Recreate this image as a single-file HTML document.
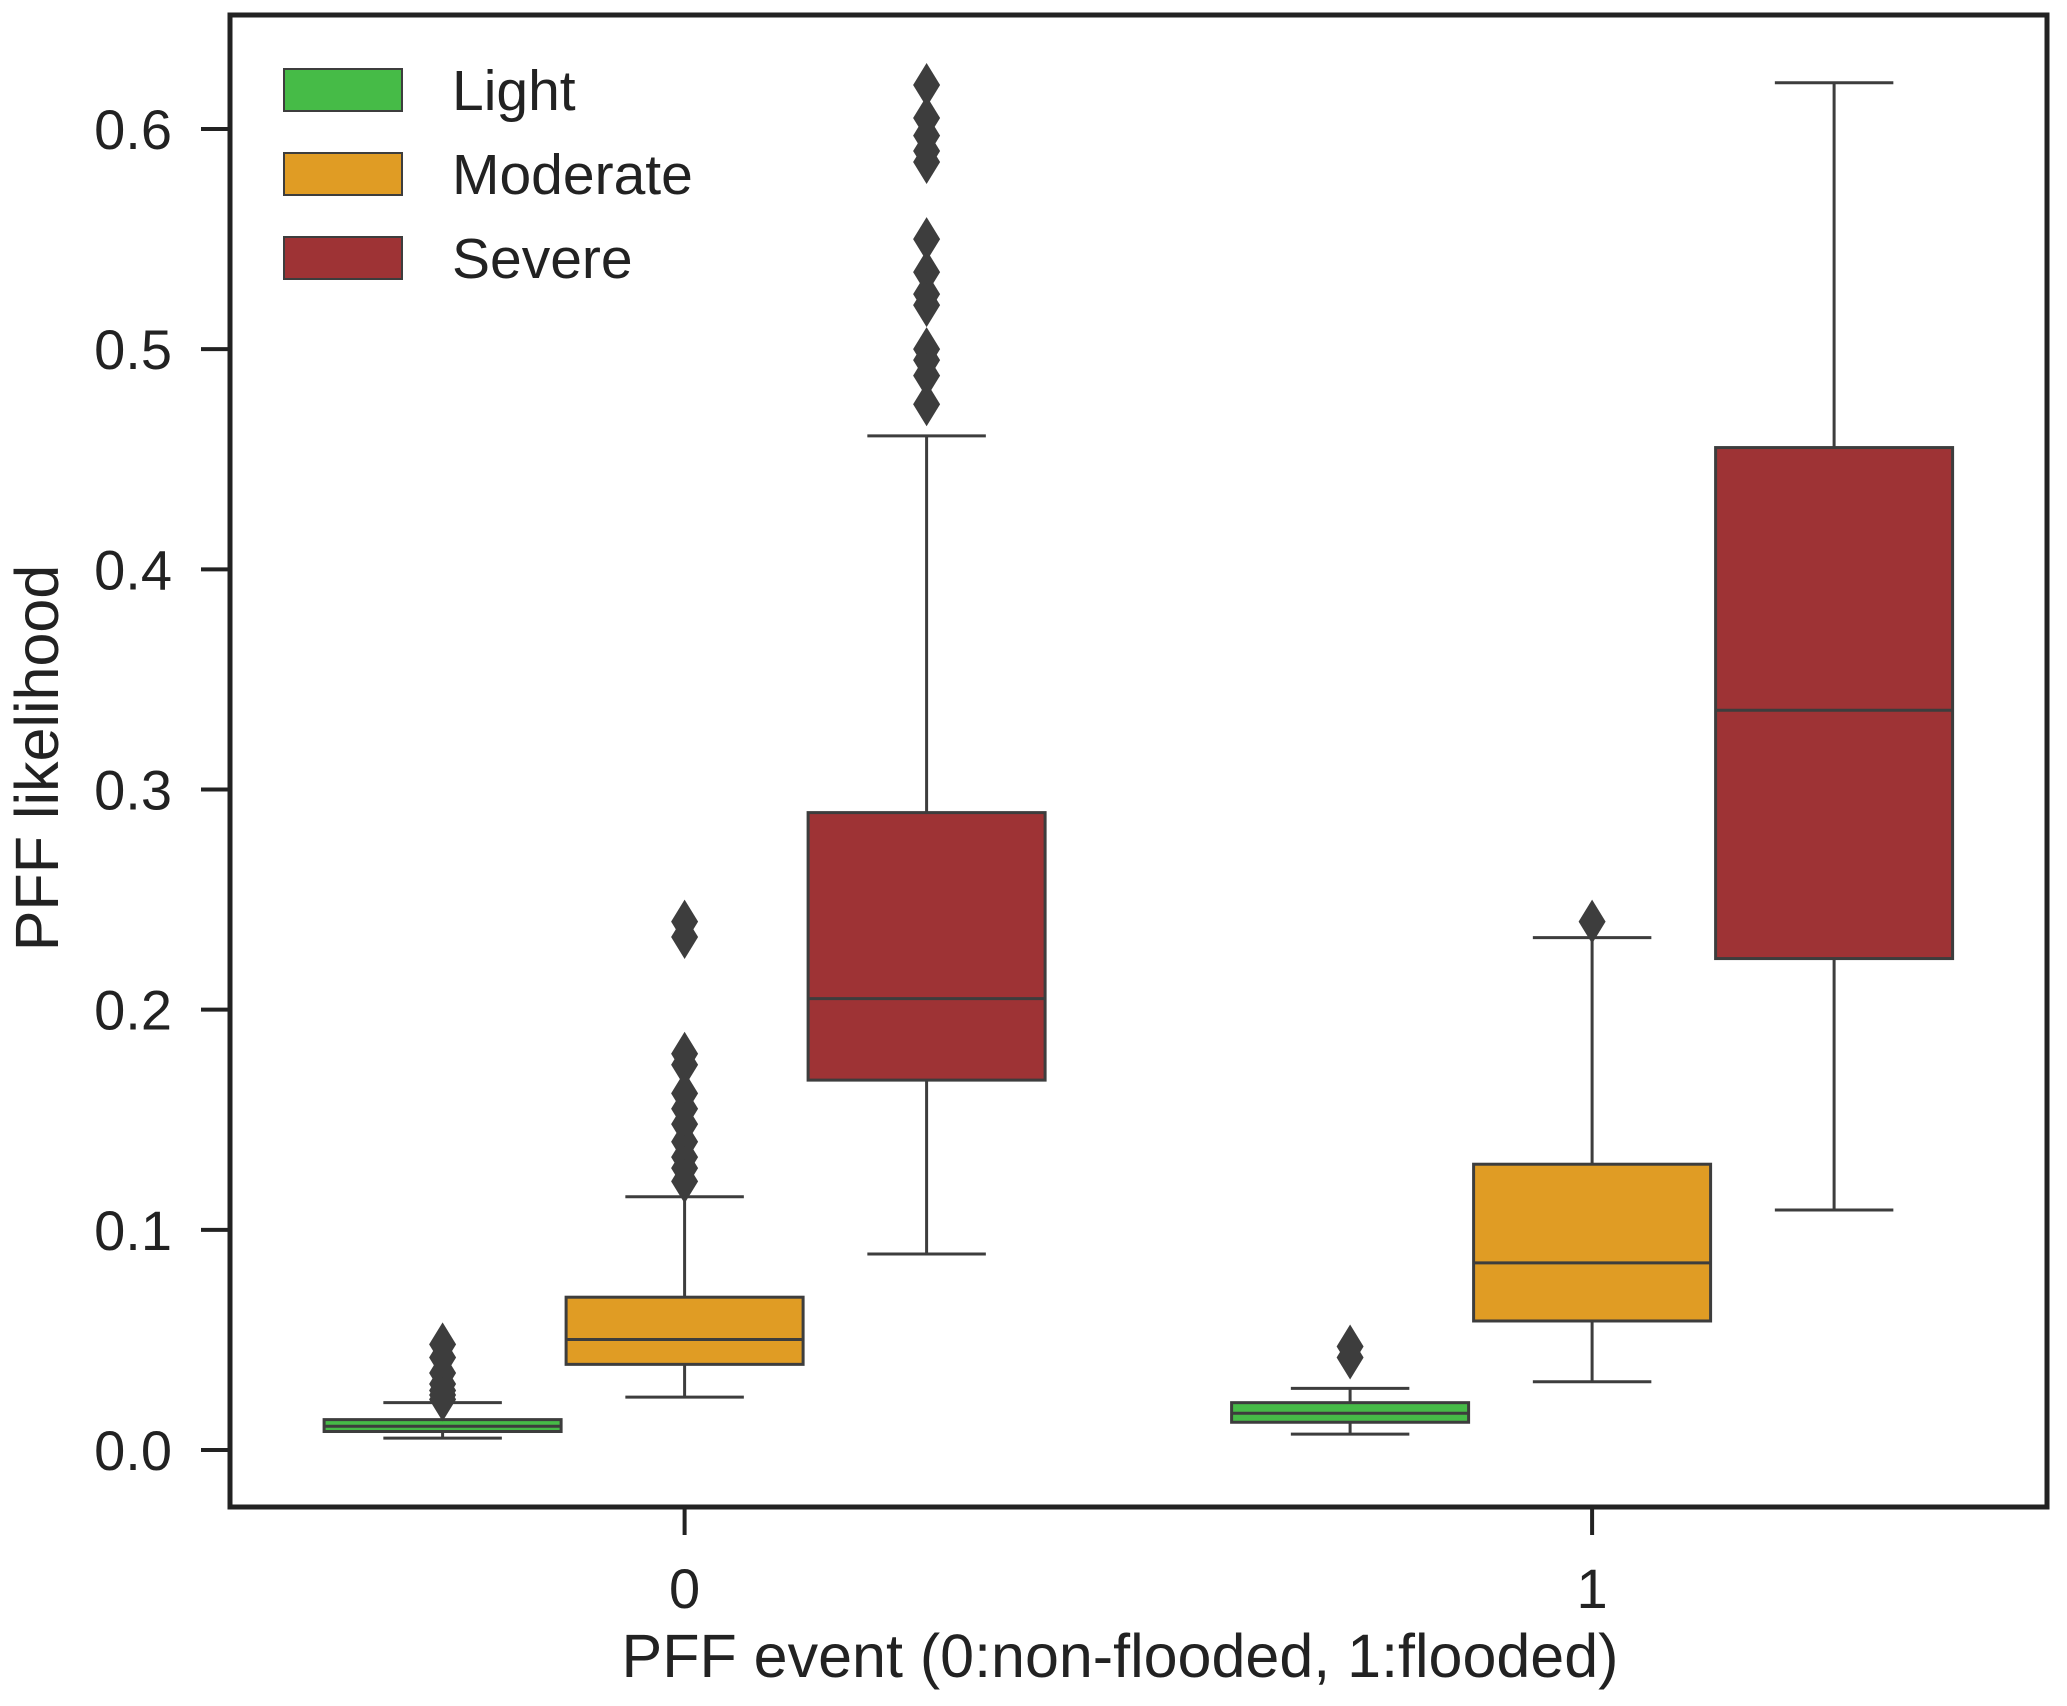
<!DOCTYPE html>
<html><head><meta charset="utf-8"><style>
html,body{margin:0;padding:0;background:#fff;}
svg{display:block;font-family:"Liberation Sans",Arial,sans-serif;}
</style></head><body>
<svg id="chart" width="2067" height="1706" viewBox="0 0 2067 1706">
<rect width="2067" height="1706" fill="#fff"/>
<g id="plot"></g>
<g id="axes"></g>
</svg>
<script>
const categories = ["0", "1"];
const hues = ["Light", "Moderate", "Severe"];
const hueColors = ["#46bb47", "#e09c24", "#9e3335"];
// [whisLow, q1, median, q3, whisHigh] per category per hue
const lightStats = [[0.0054, 0.0084, 0.0108, 0.0138, 0.0215], [0.0072, 0.0126, 0.0167, 0.0215, 0.028]];
const moderateStats = [[0.024, 0.0389, 0.0502, 0.0694, 0.115], [0.031, 0.0586, 0.085, 0.1298, 0.2327]];
const severeStats = [[0.089, 0.168, 0.205, 0.2895, 0.4606], [0.109, 0.2232, 0.336, 0.4553, 0.621]];
const lightOutliers = [[0.048, 0.042, 0.035, 0.030, 0.027, 0.025, 0.023], [0.047, 0.042]];
const moderateOutliers = [[0.240, 0.233, 0.180, 0.175, 0.162, 0.155, 0.148, 0.140, 0.133, 0.128, 0.122], [0.240]];
const severeOutliers = [[0.620, 0.605, 0.597, 0.590, 0.585, 0.550, 0.535, 0.525, 0.520, 0.500, 0.495, 0.488, 0.475], []];
const yTicks = [0.0, 0.1, 0.2, 0.3, 0.4, 0.5, 0.6];
const yTickLabels = ["0.0", "0.1", "0.2", "0.3", "0.4", "0.5", "0.6"];

const NS = "http://www.w3.org/2000/svg";
const L = 230, R = 2047, T = 15, B = 1507;
const y = v => 1450 - 2201.7 * v;
const xCat = i => 684.6 + i * 907.5;
const hueOff = h => (h - 1) * 242;
const boxW = 237;
const stroke = "#3d3d3d";
const plot = document.getElementById("plot");
const axes = document.getElementById("axes");
function mk(tag, attrs, parent) {
  const e = document.createElementNS(NS, tag);
  for (const k in attrs) e.setAttribute(k, attrs[k]);
  parent.appendChild(e);
  return e;
}
const allStats = [lightStats, moderateStats, severeStats];
const allOut = [lightOutliers, moderateOutliers, severeOutliers];
for (let c = 0; c < categories.length; c++) {
  for (let h = 0; h < hues.length; h++) {
    const s = allStats[h][c];
    const cx = xCat(c) + hueOff(h);
    const g = mk("g", {}, plot);
    
    
    mk("line", {x1: cx, x2: cx, y1: y(s[3]), y2: y(s[4]), stroke: stroke, "stroke-width": 3}, g);
    mk("line", {x1: cx, x2: cx, y1: y(s[0]), y2: y(s[1]), stroke: stroke, "stroke-width": 3}, g);
    mk("line", {x1: cx - boxW / 4, x2: cx + boxW / 4, y1: y(s[4]), y2: y(s[4]), stroke: stroke, "stroke-width": 3}, g);
    mk("line", {x1: cx - boxW / 4, x2: cx + boxW / 4, y1: y(s[0]), y2: y(s[0]), stroke: stroke, "stroke-width": 3}, g);
    mk("rect", {x: cx - boxW / 2, y: y(s[3]), width: boxW, height: y(s[1]) - y(s[3]), fill: hueColors[h], stroke: stroke, "stroke-width": 3}, g);
    mk("line", {x1: cx - boxW / 2, x2: cx + boxW / 2, y1: y(s[2]), y2: y(s[2]), stroke: stroke, "stroke-width": 3}, g);
    for (const o of allOut[h][c]) {
      const oy = y(o);
      const d = mk("polygon", {points: `${cx},${oy - 22} ${cx + 13.5},${oy} ${cx},${oy + 22} ${cx - 13.5},${oy}`, fill: stroke}, g);
      
      
    }
  }
}
const frame = mk("rect", {x: L, y: T, width: R - L, height: B - T, fill: "none", stroke: "#222", "stroke-width": 5}, axes);


for (let i = 0; i < yTicks.length; i++) {
  const ty = y(yTicks[i]);
  mk("line", {x1: 201, x2: L, y1: ty, y2: ty, stroke: "#222", "stroke-width": 4}, axes);
  const t = mk("text", {x: 172, y: ty + 20, "text-anchor": "end", "font-size": 56, fill: "#222"}, axes);
  t.textContent = yTickLabels[i];
  
  
}
for (let c = 0; c < categories.length; c++) {
  const tx = xCat(c);
  mk("line", {x1: tx, x2: tx, y1: B, y2: B + 28, stroke: "#222", "stroke-width": 4}, axes);
  const t = mk("text", {x: tx, y: 1608, "text-anchor": "middle", "font-size": 56, fill: "#222"}, axes);
  t.textContent = categories[c];
  
  
}
const xl = mk("text", {x: 1120, y: 1677, "text-anchor": "middle", "font-size": 61, fill: "#222"}, axes);
xl.textContent = "PFF event (0:non-flooded, 1:flooded)";


const yl = mk("text", {x: 0, y: 0, "text-anchor": "middle", "font-size": 61, fill: "#222", transform: "translate(58,758) rotate(-90)"}, axes);
yl.textContent = "PFF likelihood";


const lg = mk("g", {}, axes);


for (let h = 0; h < hues.length; h++) {
  const top = 69 + h * 84;
  const e = mk("g", {}, lg);
  
  
  mk("rect", {x: 284, y: top, width: 118, height: 42, fill: hueColors[h], stroke: stroke, "stroke-width": 2}, e);
  const t = mk("text", {x: 452, y: top + 41, "font-size": 57, fill: "#222"}, e);
  t.textContent = hues[h];
}
</script>
</body></html>
